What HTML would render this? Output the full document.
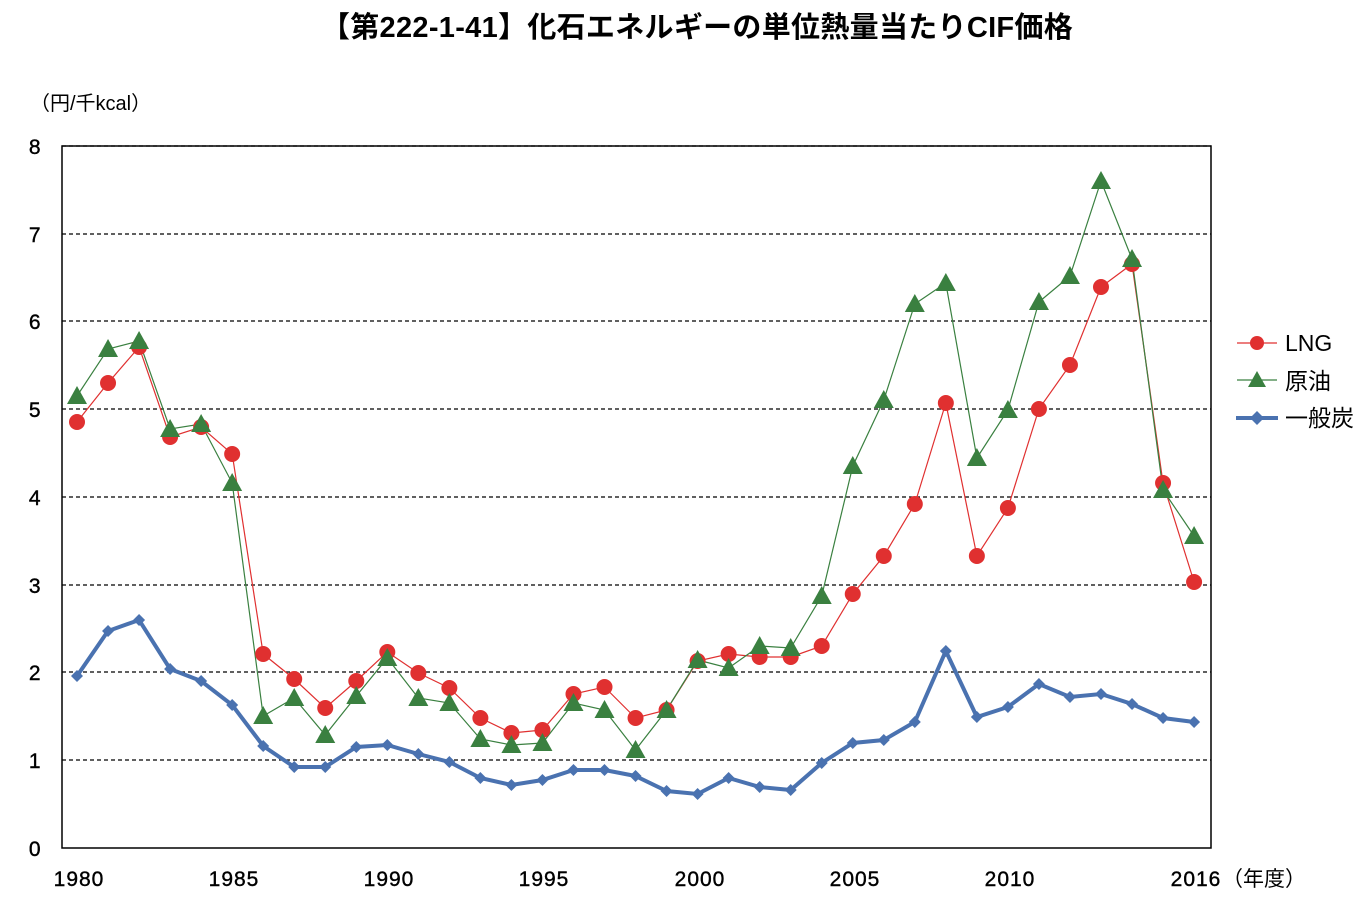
<!DOCTYPE html>
<html><head><meta charset="utf-8"><style>
body{margin:0;background:#fff;}
svg text{font-family:"Liberation Sans","Noto Sans CJK JP",sans-serif;fill:#000;}
</style></head><body>
<svg id="s" width="1364" height="908" xmlns="http://www.w3.org/2000/svg">
<text x="697" y="37" text-anchor="middle" font-size="29" font-weight="bold" letter-spacing="0.3">【第222-1-41】化石エネルギーの単位熱量当たりCIF価格</text>
<text x="30" y="110" font-size="20">（円/千kcal）</text>
<g stroke="#000" stroke-dasharray="4,3" stroke-width="1.2">
<line x1="62" x2="1211" y1="146" y2="146"/><line x1="62" x2="1211" y1="234" y2="234"/>
<line x1="62" x2="1211" y1="321" y2="321"/><line x1="62" x2="1211" y1="409" y2="409"/>
<line x1="62" x2="1211" y1="497" y2="497"/><line x1="62" x2="1211" y1="585" y2="585"/>
<line x1="62" x2="1211" y1="672" y2="672"/><line x1="62" x2="1211" y1="760" y2="760"/>
</g>
<rect x="62" y="146" width="1149" height="702" fill="none" stroke="#000" stroke-width="1.5"/>
<g font-size="21" text-anchor="end" letter-spacing="0.5" stroke="#000" stroke-width="0.4">
<text x="41" y="154">8</text><text x="41" y="242">7</text><text x="41" y="329">6</text><text x="41" y="417">5</text>
<text x="41" y="505">4</text><text x="41" y="593">3</text><text x="41" y="680">2</text><text x="41" y="768">1</text><text x="41" y="856">0</text>
</g>
<g font-size="21" text-anchor="middle" letter-spacing="1" stroke="#000" stroke-width="0.4">
<text x="79" y="886">1980</text><text x="234" y="886">1985</text><text x="389" y="886">1990</text><text x="544" y="886">1995</text>
<text x="700" y="886">2000</text><text x="855" y="886">2005</text><text x="1010" y="886">2010</text><text x="1196" y="886">2016</text>
</g>
<text x="1222" y="886" font-size="21">（年度）</text>
<g id="d"></g>
<line x1="1237" x2="1277" y1="343" y2="343" stroke="#e03030" stroke-width="1.2"/><circle cx="1257" cy="343" r="7" fill="#e03030"/>
<line x1="1237" x2="1277" y1="380" y2="380" stroke="#3a8040" stroke-width="1.2"/><polygon points="1257,371 1266,387 1248,387" fill="#3a8040"/>
<line x1="1236" x2="1278" y1="418" y2="418" stroke="#4a72b0" stroke-width="4"/><polygon points="1257,411 1264,418 1257,425 1250,418" fill="#4a72b0"/>
<text x="1285" y="351" font-size="23">LNG</text>
<text x="1285" y="389" font-size="23">原油</text>
<text x="1285" y="426" font-size="23">一般炭</text>
</svg>
<script>
var L=[422,383,347,437,427,454,654,679,708,681,652,673,688,718,733,730,694,687,718,710,661,654,657,657,646,594,556,504,403,556,508,409,365,287,264,483,582];
var O=[396,349,341,429,424,483,716,698,735,696,658,698,703,739,745,743,703,710,750,710,660,668,646,648,596,466,400,304,283,458,410,302,276,181,259,490,536];
var C=[676,631,620,669,681,705,746,767,767,747,745,754,762,778,785,780,770,770,776,791,794,778,787,790,763,743,740,722,651,717,707,684,697,694,704,718,722];
function X(i){return 77+i*31.03;}
var h='';
function pl(a,c,w){return '<polyline fill="none" stroke="'+c+'" stroke-width="'+w+'" points="'+a.map(function(y,i){return X(i).toFixed(1)+','+y}).join(' ')+'"/>';}
h+=pl(C,'#4a72b0',4);
C.forEach(function(y,i){var x=X(i);h+='<polygon fill="#4a72b0" points="'+x+','+(y-6)+' '+(x+6)+','+y+' '+x+','+(y+6)+' '+(x-6)+','+y+'"/>';});
h+=pl(L,'#e03030',1.2);
h+=pl(O,'#3a8040',1.2);
L.forEach(function(y,i){h+='<circle cx="'+X(i)+'" cy="'+y+'" r="8" fill="#e03030"/>';});
O.forEach(function(y,i){var x=X(i);h+='<polygon fill="#3a8040" points="'+x+','+(y-10)+' '+(x+10)+','+(y+8)+' '+(x-10)+','+(y+8)+'"/>';});
document.getElementById('d').innerHTML=h;
</script>
</body></html>
